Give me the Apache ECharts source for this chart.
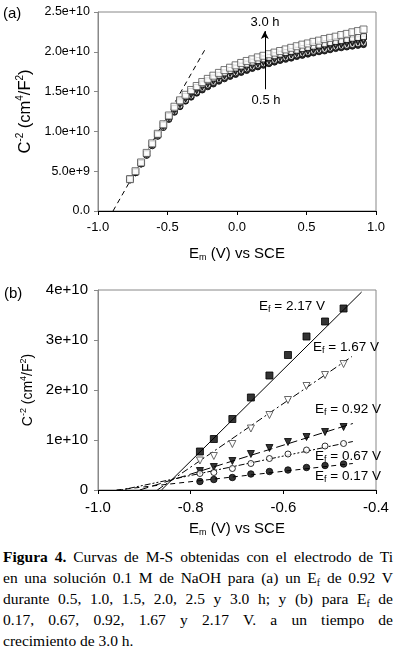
<!DOCTYPE html>
<html>
<head>
<meta charset="utf-8">
<script src="https://cdn.jsdelivr.net/npm/echarts/dist/echarts.min.js"></script>
<style>
body { margin: 0; background: #fff; }
#wrap { position: relative; width: 396px; height: 651px; overflow: hidden; }
#chart { position: absolute; left: 0; top: 0; width: 396px; height: 545px; }
#cap { position: absolute; left: 3px; top: 546px; width: 390px; font-family: "Liberation Serif", serif; font-size: 15.5px; line-height: 21px; color: #000; }
#cap div { text-align: justify; text-align-last: justify; }
#cap div.last { text-align-last: left; }
#cap sub { font-size: 10px; line-height: 0; vertical-align: -3px; }
</style>
</head>
<body>
<div id="wrap">
  <div id="chart"></div>
  <div id="cap">
    <div><b>Figura 4.</b> Curvas de M-S obtenidas con el electrodo de Ti</div>
    <div>en una solución 0.1 M de NaOH para (a) un E<sub>f</sub> de 0.92 V</div>
    <div>durante 0.5, 1.0, 1.5, 2.0, 2.5 y 3.0 h; y (b) para E<sub>f</sub> de</div>
    <div>0.17, 0.67, 0.92, 1.67 y 2.17 V. a un tiempo de</div>
    <div class="last">crecimiento de 3.0 h.</div>
  </div>
</div>
<script>
// (a) potencial (V) y C^-2 en unidades de 1e9
var xA = [-0.77, -0.73, -0.69, -0.65, -0.61, -0.57, -0.53, -0.49, -0.45, -0.41, -0.37, -0.33, -0.29, -0.25,
  -0.21, -0.17, -0.13, -0.09, -0.05, -0.01, 0.03, 0.07, 0.11, 0.15, 0.19, 0.23, 0.27, 0.31, 0.35, 0.39,
  0.43, 0.47, 0.51, 0.55, 0.59, 0.63, 0.67, 0.71, 0.75, 0.79, 0.83, 0.87, 0.91];
var h05 = [3.9, 4.8, 5.9, 7.0, 8.2, 9.4, 10.5, 11.5, 12.4, 13.1, 13.8, 14.3, 14.8, 15.2, 15.6, 15.95, 16.3, 16.6,
  16.9, 17.15, 17.4, 17.65, 17.9, 18.1, 18.3, 18.5, 18.7, 18.9, 19.05, 19.2, 19.4, 19.55, 19.7, 19.85, 20.0,
  20.1, 20.25, 20.4, 20.5, 20.6, 20.7, 20.8, 20.9];
var h10 = [3.9, 4.8, 5.9, 7.0, 8.2, 9.4, 10.5, 11.6, 12.5, 13.2, 13.9, 14.45, 14.95, 15.4, 15.8, 16.15, 16.5, 16.8,
  17.1, 17.35, 17.6, 17.85, 18.1, 18.3, 18.5, 18.7, 18.9, 19.1, 19.25, 19.4, 19.6, 19.75, 19.9, 20.05, 20.2,
  20.3, 20.45, 20.6, 20.7, 20.8, 20.9, 21.0, 21.1];
var h15 = [3.9, 4.8, 5.9, 7.1, 8.3, 9.5, 10.6, 11.7, 12.6, 13.35, 14.05, 14.6, 15.1, 15.55, 15.95, 16.3, 16.65, 16.95,
  17.25, 17.5, 17.75, 18.0, 18.25, 18.45, 18.65, 18.85, 19.05, 19.25, 19.4, 19.6, 19.75, 19.9, 20.05, 20.2, 20.35,
  20.5, 20.6, 20.75, 20.85, 21.0, 21.1, 21.2, 21.3];
var h20 = [4.0, 4.9, 6.0, 7.1, 8.3, 9.5, 10.7, 11.8, 12.75, 13.5, 14.2, 14.8, 15.3, 15.75, 16.15, 16.5, 16.85, 17.15,
  17.45, 17.7, 17.95, 18.2, 18.45, 18.65, 18.85, 19.05, 19.25, 19.45, 19.65, 19.8, 19.95, 20.1, 20.3, 20.45, 20.6,
  20.75, 20.9, 21.0, 21.15, 21.3, 21.4, 21.5, 21.6];
var h25 = [4.0, 4.9, 6.0, 7.2, 8.4, 9.6, 10.8, 11.9, 12.9, 13.7, 14.4, 15.0, 15.5, 15.95, 16.35, 16.7, 17.05, 17.35,
  17.65, 17.95, 18.2, 18.45, 18.7, 18.9, 19.1, 19.3, 19.5, 19.7, 19.9, 20.05, 20.2, 20.4, 20.55, 20.7, 20.85,
  21.0, 21.15, 21.3, 21.4, 21.55, 21.7, 21.8, 21.9];
var h30 = [4.0, 5.0, 6.1, 7.3, 8.5, 9.7, 10.9, 12.0, 13.1, 13.9, 14.6, 15.2, 15.7, 16.2, 16.6, 17.0, 17.35, 17.7,
  18.0, 18.3, 18.6, 18.85, 19.05, 19.3, 19.5, 19.7, 19.9, 20.1, 20.3, 20.5, 20.7, 20.9, 21.05, 21.25, 21.4,
  21.6, 21.75, 21.9, 22.1, 22.25, 22.45, 22.6, 22.8];
var fitA = [[-0.892, 0], [-0.22, 20.6]];
var arrowA = [[0.2, 15.3], [0.2, 22.6]];
var yTicksA = ['0.0', '5.0e+9', '1.0e+10', '1.5e+10', '2.0e+10', '2.5e+10'];

// (b)
var xB = [-0.78, -0.75, -0.71, -0.67, -0.63, -0.59, -0.55, -0.51, -0.47];
var ef217 = [7.7, 10.2, 14.2, 18.5, 22.9, 27.0, 30.7, 33.7, 36.3];
var ef167 = [5.9, 6.8, 9.2, 12.3, 15.0, 18.0, 20.8, 23.0, 25.2];
var ef092 = [3.8, 4.6, 5.8, 7.2, 8.4, 9.6, 10.6, 11.6, 12.6];
var ef067 = [3.3, 3.5, 4.3, 5.3, 6.3, 7.2, 8.0, 8.8, 9.3];
var ef017 = [1.7, 2.1, 2.5, 3.2, 3.7, 4.0, 4.5, 4.9, 5.2];
var fit217 = [[-0.863, 0], [-0.431, 39.6]];
var fit167 = [[-0.872, 0], [-0.452, 26.7]];
var fit092 = [[-0.91, 0], [-0.45, 13.3]];
var fit067 = [[-0.95, 0], [-0.45, 9.7]];
var fit017 = [[-0.96, 0], [-0.45, 5.3]];
var yTicksB = ['0', '1e+10', '2e+10', '3e+10', '4e+10'];

var FONT = 'Liberation Sans, Arial, sans-serif';

function pts(xs, ys) {
  return xs.map(function (x, i) { return [x, ys[i]]; });
}

var chart = echarts.init(document.getElementById('chart'));

function mk(name, xs, ys, symbol, size, fill, stroke, rot) {
  return {
    name: name, type: 'scatter', xAxisIndex: 0, yAxisIndex: 0,
    data: pts(xs, ys), symbol: symbol, symbolSize: size, symbolRotate: rot || 0,
    itemStyle: { color: fill, borderColor: stroke, borderWidth: 1 }, silent: true
  };
}
function mkB(name, ys, symbol, size, fill, stroke, rot) {
  return {
    name: name, type: 'scatter', xAxisIndex: 1, yAxisIndex: 1,
    data: pts(xB, ys), symbol: symbol, symbolSize: size, symbolRotate: rot || 0,
    itemStyle: { color: fill, borderColor: stroke, borderWidth: 1 }, silent: true, z: 3
  };
}
function fitLine(data, type) {
  return {
    type: 'line', xAxisIndex: 1, yAxisIndex: 1, data: data, showSymbol: false, silent: true,
    lineStyle: { color: '#000', width: 1, type: type }, z: 2
  };
}

var sup = { fontSize: 9, padding: [0, 0, 8, 0] };
var supA = { fontSize: 10, padding: [0, 0, 9, 0] };
var sub = { fontSize: 9, padding: [7, 0, 0, 0] };

function xAx(idx, min, max, step, fs, gap) {
  return {
    type: 'value', gridIndex: idx, min: min, max: max, interval: step,
    axisLine: { onZero: false, lineStyle: { color: '#000', width: 1 } },
    axisTick: { show: true, inside: false, length: 4, lineStyle: { color: '#000' } },
    splitLine: { show: false },
    axisLabel: { color: '#000', fontSize: fs, fontFamily: FONT, margin: 10, formatter: function (v) { return v.toFixed(1); } },
    name: 'E{m|m} (V) vs SCE', nameLocation: 'middle', nameGap: gap,
    nameTextStyle: { color: '#000', fontSize: 15, fontFamily: FONT, rich: { m: sub } }
  };
}
function yAx(idx, max, step, labels, fs, margin, nfs, gap, supStyle) {
  return {
    type: 'value', gridIndex: idx, min: 0, max: max, interval: step,
    axisLine: { show: true, onZero: false, lineStyle: { color: '#888', width: 1 } },
    axisTick: { show: true, inside: false, length: 4, lineStyle: { color: '#888' } },
    splitLine: { show: false },
    axisLabel: { color: '#000', fontSize: fs, fontFamily: FONT, margin: margin, formatter: function (v) { return labels[Math.round(v / step)]; } },
    name: 'C{s|-2} (cm{s|4}/F{s|2})', nameLocation: 'middle', nameRotate: 90, nameGap: gap,
    nameTextStyle: { color: '#000', fontSize: nfs, fontFamily: FONT, rich: { s: supStyle } }
  };
}

var option = {
  animation: false,
  grid: [
    { left: 98, top: 12, width: 278, height: 199, show: true, borderColor: '#888', borderWidth: 1 },
    { left: 98, top: 290, width: 278, height: 200, show: true, borderColor: '#888', borderWidth: 1 }
  ],
  xAxis: [xAx(0, -1, 1, 0.5, 13, 35), xAx(1, -1, -0.4, 0.2, 15, 31)],
  yAxis: [yAx(0, 25, 5, yTicksA, 12.5, 8, 16.5, 60, supA), yAx(1, 40, 10, yTicksB, 15, 10, 14, 52, sup)],
  series: [
    {
      type: 'line', xAxisIndex: 0, yAxisIndex: 0, data: fitA, showSymbol: false, silent: true,
      lineStyle: { color: '#000', width: 1, type: [5, 4] }, z: 1
    },
    mk('0.5 h', xA, h05, 'circle', 6, '#000', '#000'),
    mk('1.0 h', xA, h10, 'circle', 6, '#fff', '#000'),
    mk('1.5 h', xA, h15, 'triangle', 6, '#000', '#000', 180),
    mk('2.0 h', xA, h20, 'triangle', 6, '#fff', '#333', 180),
    mk('2.5 h', xA, h25, 'rect', 6, '#fff', '#000'),
    Object.assign(mk('3.0 h', xA, h30, 'rect', 7, '#fff', '#555'), {
      markLine: {
        silent: true, symbol: ['none', 'arrow'], symbolSize: [6, 8],
        label: { show: false }, lineStyle: { color: '#000', width: 1, type: 'solid' },
        data: [[{ coord: arrowA[0] }, { coord: arrowA[1] }]]
      }
    }),
    fitLine(fit217, 'solid'),
    fitLine(fit167, [7, 3, 2, 3]),
    fitLine(fit092, [9, 4]),
    fitLine(fit067, [2, 2, 2, 2, 6, 2]),
    fitLine(fit017, [5, 4]),
    mkB('2.17 V', ef217, 'rect', 7, '#000', '#000'),
    mkB('1.67 V', ef167, 'triangle', 7, '#fff', '#444', 180),
    mkB('0.92 V', ef092, 'triangle', 7, '#000', '#000', 180),
    mkB('0.67 V', ef067, 'circle', 6, '#fff', '#000'),
    mkB('0.17 V', ef017, 'circle', 6.5, '#000', '#000')
  ],
  graphic: [
    { type: 'text', left: 3, top: 6, style: { text: '(a)', fontSize: 15, fontFamily: FONT, fill: '#000' } },
    { type: 'text', left: 4, top: 286, style: { text: '(b)', fontSize: 15, fontFamily: FONT, fill: '#000' } },
    { type: 'text', x: 265, y: 22, style: { text: '3.0 h', fontSize: 13, fontFamily: FONT, fill: '#000', align: 'center', verticalAlign: 'middle' } },
    { type: 'text', x: 266, y: 100, style: { text: '0.5 h', fontSize: 13, fontFamily: FONT, fill: '#000', align: 'center', verticalAlign: 'middle' } }
  ]
};

var efLabels = [['2.17', 259, 306], ['1.67', 313, 347], ['0.92', 315, 409], ['0.67', 315, 456], ['0.17', 315, 476]];
efLabels.forEach(function (l) {
  option.graphic.push({
    type: 'text', x: l[1], y: l[2],
    style: {
      text: 'E{f|f} = ' + l[0] + ' V', fontSize: 13.5, fontFamily: FONT, fill: '#000',
      verticalAlign: 'middle',
      rich: { f: { fontSize: 9, padding: [7, 0, 0, 0] } }
    }
  });
});

chart.setOption(option);
</script>
</body>
</html>
